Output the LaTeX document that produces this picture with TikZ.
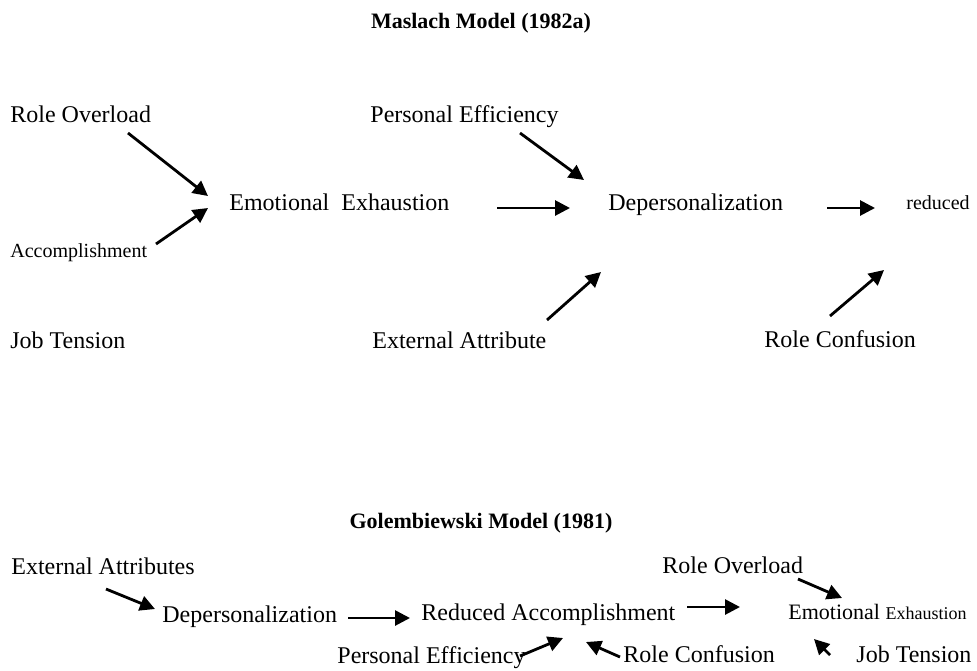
\documentclass[tikz,border=0pt]{standalone}
\usepackage{fontspec}
\setmainfont{Liberation Serif}
\usetikzlibrary{arrows.meta}
\begin{document}
\begin{tikzpicture}[x=0.5pt,y=-0.5pt,
  lbl/.style={anchor=base west,inner sep=0pt,font=\fontsize{12}{14}\selectfont},
  smalllbl/.style={anchor=base west,inner sep=0pt,font=\fontsize{10}{12}\selectfont},
  ttl/.style={anchor=base,inner sep=0pt,font=\fontsize{11}{13}\selectfont\bfseries},
  arr/.style={line width=1.4pt,-{Triangle[length=7.5pt,width=7.5pt]}}]
\useasboundingbox (0,0) rectangle (977,670);
% ---------- Maslach ----------
\node[ttl] (t1) at (481,28) {Maslach Model (1982a)};
\node[lbl] (ro) at (10,122) {Role Overload};
\node[lbl] (pe) at (370,122) {Personal Efficiency};
\node[lbl] (ee) at (229,210) {Emotional\ \ Exhaustion};
\node[lbl] (dp) at (608,210) {Depersonalization};
\node[smalllbl] (rd) at (906,209) {reduced};
\node[smalllbl] (ac) at (10,257) {Accomplishment};
\node[lbl] (jt) at (10,348) {Job Tension};
\node[lbl] (ea) at (372,348) {External Attribute};
\node[lbl] (rc) at (764,347) {Role Confusion};
\coordinate (a1s) at (128,133); \coordinate (a1e) at (208,196);
\coordinate (a2s) at (156,244); \coordinate (a2e) at (208,208);
\coordinate (a3s) at (497,208); \coordinate (a3e) at (570,208);
\coordinate (a4s) at (520,133); \coordinate (a4e) at (584,180);
\coordinate (a5s) at (547,320); \coordinate (a5e) at (601,272);
\coordinate (a6s) at (827,208); \coordinate (a6e) at (875,208);
\coordinate (a7s) at (830,316); \coordinate (a7e) at (884,270);
\draw[arr] (a1s) -- (a1e);
\draw[arr] (a2s) -- (a2e);
\draw[arr] (a3s) -- (a3e);
\draw[arr] (a4s) -- (a4e);
\draw[arr] (a5s) -- (a5e);
\draw[arr] (a6s) -- (a6e);
\draw[arr] (a7s) -- (a7e);
% ---------- Golembiewski ----------
\node[ttl] (t2) at (481,528) {Golembiewski Model (1981)};
\node[lbl] (gea) at (11,574) {External Attributes};
\node[lbl] (gdp) at (162,622) {Depersonalization};
\node[lbl] (gra) at (421,620) {Reduced Accomplishment};
\node[lbl] (gro) at (662,573) {Role Overload};
\node[anchor=base west,inner sep=0pt] (gee) at (788,619) {\fontsize{11}{13}\selectfont Emotional \fontsize{9}{11}\selectfont Exhaustion};
\node[lbl] (gpe) at (337,663) {Personal Efficiency};
\node[lbl] (grc) at (623,662) {Role Confusion};
\node[lbl] (gjt) at (856,662) {Job Tension};
\coordinate (b1s) at (106,589); \coordinate (b1e) at (155,609);
\coordinate (b2s) at (348,618); \coordinate (b2e) at (410,618);
\coordinate (b3s) at (687,607); \coordinate (b3e) at (740,607);
\coordinate (b4s) at (798,579); \coordinate (b4e) at (842,598);
\coordinate (b5s) at (520,656); \coordinate (b5e) at (563,638);
\coordinate (b6s) at (620,657); \coordinate (b6e) at (586,642);
\coordinate (b7s) at (830,655); \coordinate (b7e) at (814,639);
\draw[arr] (b1s) -- (b1e);
\draw[arr] (b2s) -- (b2e);
\draw[arr] (b3s) -- (b3e);
\draw[arr] (b4s) -- (b4e);
\draw[arr] (b5s) -- (b5e);
\draw[arr] (b6s) -- (b6e);
\draw[arr] (b7s) -- (b7e);
\end{tikzpicture}
\end{document}
